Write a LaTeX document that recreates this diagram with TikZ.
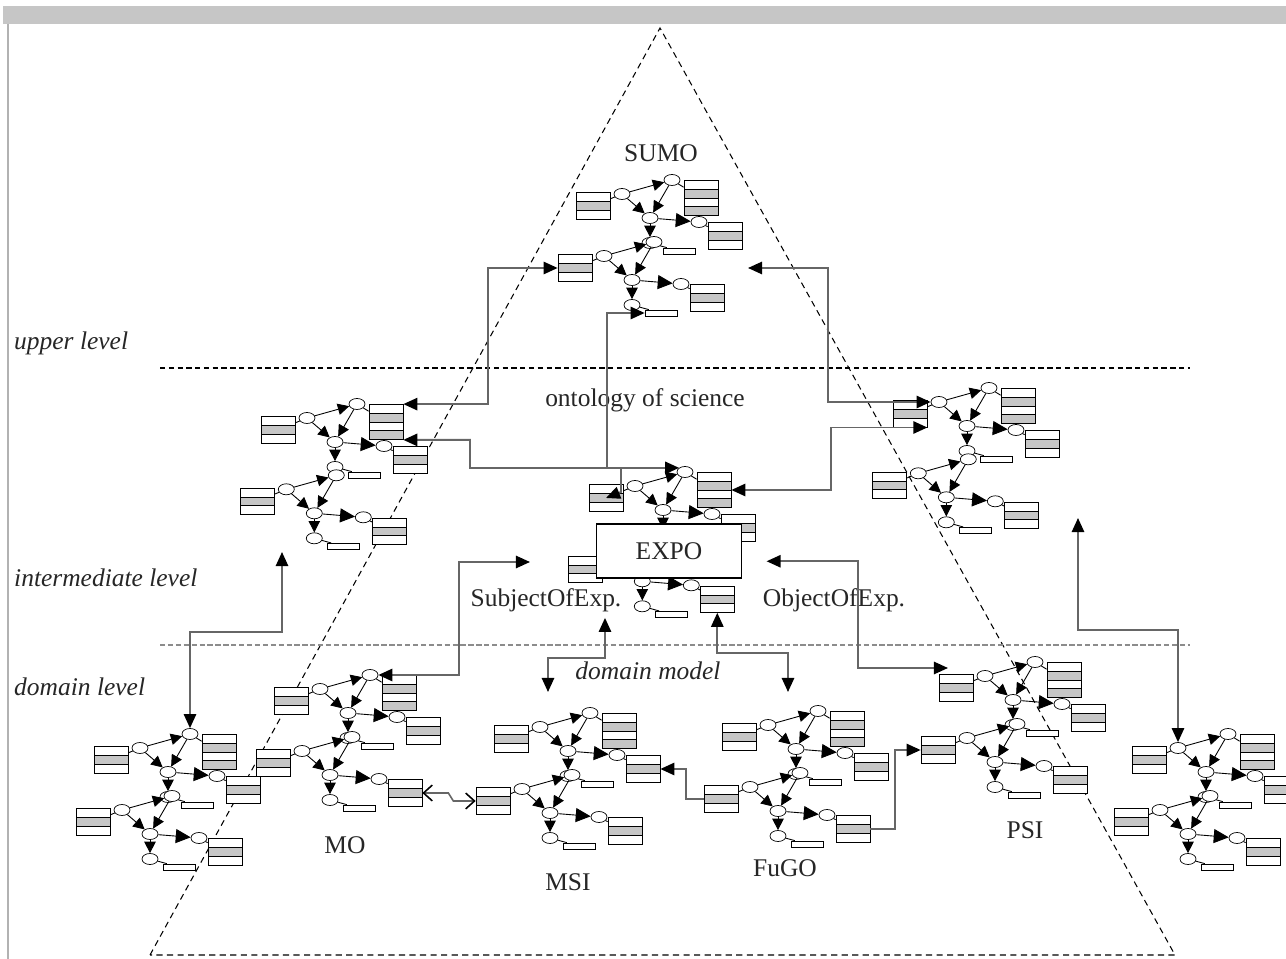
\documentclass[tikz,border=0pt]{standalone}
\usepackage{fontspec}
\setmainfont{Liberation Serif}
\usepackage{tikz}
\usetikzlibrary{shapes, arrows, arrows.meta, positioning}
\tikzstyle{oval} = [draw, ellipse, fill=white, inner sep=0pt, minimum width=0.32cm, minimum height=0.22cm, line width=0.4pt]
\tikzstyle{tribox} = [draw, rectangle split, rectangle split parts=3, rectangle split part fill={white,gray!45,white}, inner sep=0pt, minimum width=0.68cm, rectangle split empty part height=2.6pt, rectangle split empty part depth=0pt, line width=0.4pt]
\tikzstyle{quadbox} = [draw, rectangle split, rectangle split parts=4, rectangle split part fill={white,gray!45,white,gray!45}, inner sep=0pt, minimum width=0.68cm, rectangle split empty part height=3.6pt, rectangle split empty part depth=0pt, line width=0.4pt]
\tikzstyle{bar} = [draw, rectangle, fill=white, inner sep=0pt, minimum width=0.64cm, minimum height=0.12cm, line width=0.4pt]
\tikzstyle{gline} = [line width=0.5pt, -{Triangle[length=6.5pt,width=6.5pt]}]
\tikzstyle{gbig} = [line width=0.5pt, -{Triangle[length=8.5pt,width=8pt]}]
\tikzstyle{link} = [draw=black!60, line width=1.1pt, >={Triangle[length=8pt,width=7pt,color=black]}]
\tikzstyle{barb} = [draw=black!60, line width=0.9pt, >={Straight Barb[length=5pt,width=9pt,color=black]}]
\tikzstyle{pyramid} = [line width=0.6pt, dash pattern=on 3.5pt off 2.5pt]
\tikzstyle{upline} = [line width=0.6pt, dash pattern=on 3pt off 2pt]
\tikzstyle{downline} = [draw=black!45, line width=1.3pt, dash pattern=on 3pt off 1.5pt]
\tikzstyle{lbl} = [font=\fontsize{14.5}{17}\selectfont, text=black!85]
\tikzstyle{itl} = [font=\fontsize{14.5}{17}\selectfont\itshape, text=black!85]
\tikzset{
	pics/unit/.style={code={
		\node[oval] (-c) at (0,0) {};
		\node[oval] (-l) at (-28,-24) {};
		\node[oval] (-t) at (22,-38) {};
		\node[oval] (-b) at (0,25) {};
		\node[oval] (-r) at (49,4) {};
		\node[tribox] (-lb) at (-57,-12) {};
		\node[tribox] (-rb) at (75,18) {};
		\node[bar] (-sb) at (29,33) {};
		\draw[line width=0.5pt] (-lb) -- (-l) (-r) -- (-rb) (-b) -- (-sb);
		\draw[gline] (-l) -- (-t);
		\draw[gline] (-l) -- (-c);
		\draw[gline] (-t) -- (-c);
		\draw[gline] (-c) -- (-b);
		\draw[gbig] (-c) -- (-r);
		\ifnum#1=1
			\node[quadbox] (-q) at (51,-20) {};
			\draw[line width=0.5pt] (-t) -- (-q);
		\fi
	}}
}
\newcommand{\onto}[4][1]{%
	\begin{scope}[shift={(#3,#4)}, scale=#1]
		\pic (#2A) at (0,0) {unit=1};
		\pic (#2B) at (-18,62) {unit=0};
	\end{scope}}

\begin{document}
\begin{tikzpicture}[x=0.02cm, y=-0.02cm]
	\useasboundingbox (0,0) rectangle (1286,959);
	\fill[gray!45] (3,6) rectangle (1286,24);
	\draw[gray!60, line width=1.2pt] (8,24) -- (8,959);
	\draw[pyramid] (150,955) -- (660,28) -- (1175,955) -- cycle;
	\draw[upline] (160,368) -- (1190,368);
	\draw[downline] (160,645) -- (1190,645);

	\onto{sumo}{650}{218}
	\onto[1.15]{sci}{335}{442}
	\onto[1.15]{res}{967}{426}
	\onto[1.15]{expo}{663}{510}
	\onto{mo}{348}{713}
	\onto{fl}{168}{772}
	\onto{msi}{568}{751}
	\onto{fugo}{796}{749}
	\onto{psi}{1013}{700}
	\onto{fr}{1206}{772}

	\node[lbl] (sumolbl) at (661,153) {SUMO};
	\node[lbl] (scilbl) at (645,400) {ontology of science};
	\node[lbl, draw, fill=white, line width=0.6pt, minimum width=2.9cm, minimum height=1.08cm] (expo) at (669,551) {EXPO};
	\node[lbl] (subj) at (546,600) {SubjectOfExp.};
	\node[lbl] (obj) at (834,600) {ObjectOfExp.};
	\node[itl] (dommod) at (648,671) {domain model};
	\node[lbl] (molbl) at (345,845) {MO};
	\node[lbl] (msilbl) at (568,882) {MSI};
	\node[lbl] (fugolbl) at (785,868) {FuGO};
	\node[lbl] (psilbl) at (1025,830) {PSI};
	\node[itl, anchor=west] (upper) at (8,343) {upper level};
	\node[itl, anchor=west] (inter) at (8,578) {intermediate level};
	\node[itl, anchor=west] (domain) at (8,687) {domain level};

	\coordinate (sumoR) at (748,268);
	\coordinate (sciIn) at (282,552);
	\coordinate (subjIn) at (530,562);
	\coordinate (msiIn) at (548,692);
	\coordinate (fugoIn) at (788,692);
	\coordinate (psiIn) at (948,668);
	\coordinate (resIn) at (1078,518);

	\draw[link,<->] (sumoB-lb.west) -- ++(-70,0) |- (sciA-q.north east);
	\draw[link,<->] (sumoR) -- ++(80,0) |- (resA-l.west);
	\draw[link,<->] (sumoB-sb.west) -- ++(-38,0) |- (expoA-t.north west);
	\draw[link,<->] (sciA-q.south east) -| (470,468) -| (621,492) -- (expoA-lb.center);
	\draw[link,<->] (expoA-q.east) -- ++(100,0) |- (resA-lb.south east);
	\draw[link,<->] (sciIn) -- ++(0,80) -| (flA-t.north);
	\draw[link,<->] (moA-t.east) -- ++(81,0) |- (subjIn);
	\draw[link,<->] (605,0 |- subj.south) -- ++(0,40) -| (msiIn);
	\draw[link,<->] (expoB-rb.south) -- ++(0,40) -| (fugoIn);
	\draw[link,<->, shorten <=14pt] (expo.-8) -| (858,668) -- (psiIn);
	\draw[link,<-] (msiA-rb.east) -- ++(26,0) |- (fugoB-lb.west);
	\draw[link,->] (fugoB-rb.east) -- ++(25,0) |- (psiB-lb.west);
	\draw[barb,<->] (moB-rb.east) -- ++(26,0) -- ++(5,8) -- (msiB-lb.west);
	\draw[link,<->] (resIn) -- ++(0,112) -| (frA-l.north);
\end{tikzpicture}
\end{document}
